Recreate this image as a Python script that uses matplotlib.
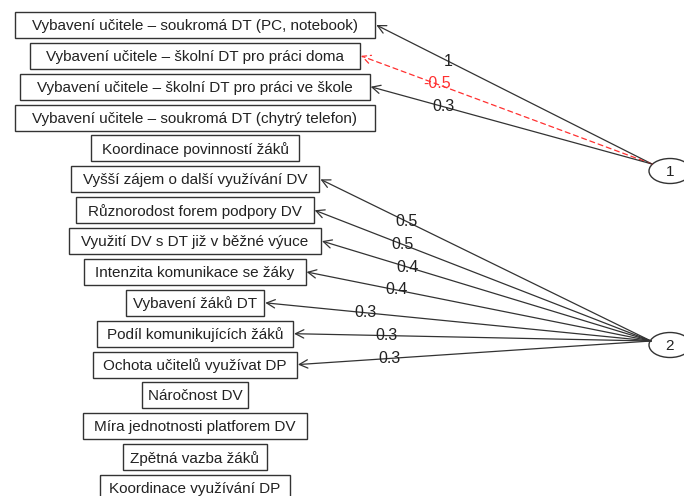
import matplotlib
matplotlib.use("Agg")
import matplotlib.pyplot as plt
from matplotlib.patches import Rectangle, Ellipse

items = [
    "Vybavení učitele – soukromá DT (PC, notebook)",
    "Vybavení učitele – školní DT pro práci doma",
    "Vybavení učitele – školní DT pro práci ve škole",
    "Vybavení učitele – soukromá DT (chytrý telefon)",
    "Koordinace povinností žáků",
    "Vyšší zájem o další využívání DV",
    "Různorodost forem podpory DV",
    "Využití DV s DT již v běžné výuce",
    "Intenzita komunikace se žáky",
    "Vybavení žáků DT",
    "Podíl komunikujících žáků",
    "Ochota učitelů využívat DP",
    "Náročnost DV",
    "Míra jednotnosti platforem DV",
    "Zpětná vazba žáků",
    "Koordinace využívání DP",
]
factors = ["1", "2"]
f1_items = [0, 1, 2]
f1_loadings = [1, -0.5, 0.3]
f2_items = [5, 6, 7, 8, 9, 10, 11]
f2_loadings = [0.5, 0.5, 0.4, 0.4, 0.3, 0.3, 0.3]

W, H = 684, 496
fig = plt.figure(figsize=(W / 100, H / 100), dpi=100)
ax = fig.add_axes([0, 0, 1, 1])
ax.set_xlim(0, W)
ax.set_ylim(H, 0)
ax.axis("off")

font = dict(family=["Liberation Sans", "DejaVu Sans"], fontsize=11, color="#222222")

y0, dy = 25, 30.87
xc = 195
texts = []
for i, name in enumerate(items):
    t = ax.text(xc, y0 + i * dy + 1, name, ha="center", va="center", **font)
    texts.append(t)

fig.canvas.draw()
r = fig.canvas.get_renderer()
inv = ax.transData.inverted()
right_edges = []
for i, t in enumerate(texts):
    bb = t.get_window_extent(r)
    (x0d, _), (x1d, _) = inv.transform([(bb.x0, bb.y0), (bb.x1, bb.y1)])
    tw = abs(x1d - x0d)
    bw = tw * 1.1 + 2
    xl, xr = xc - bw / 2, xc + bw / 2
    yc = y0 + i * dy
    ax.add_patch(Rectangle((xl, yc - 13), bw, 26, fill=False,
                           edgecolor="#333333", lw=1.0))
    right_edges.append(xr)

ell_x = 670
ell_y = [171, 345]
starts = [(652, 164), (651, 341)]
for fy, fname in zip(ell_y, factors):
    ax.add_patch(Ellipse((ell_x, fy), 42, 25, fill=False, edgecolor="#333333", lw=1.0))
    ax.text(ell_x, fy + 1, fname, ha="center", va="center", **font)

def draw_paths(start, idxs, loads):
    sx, sy = start
    for i, l in zip(idxs, loads):
        tx, ty = right_edges[i] + 1, y0 + i * dy
        neg = l < 0
        col = "#ff3030" if neg else "#333333"
        ls = (0, (4, 3)) if neg else "-"
        ax.annotate("", xy=(tx, ty), xytext=(sx, sy),
                    arrowprops=dict(arrowstyle="->,head_length=0.6,head_width=0.3",
                                    color=col, lw=0.9, linestyle=ls,
                                    shrinkA=0, shrinkB=0))
        f = 0.26
        lx = tx + f * (sx - tx)
        ly = ty + f * (sy - ty)
        lab = f"{l:g}"
        ax.text(lx, ly, lab, ha="center", va="center",
                family=["Liberation Sans", "DejaVu Sans"], fontsize=11.5,
                color="#ff3030" if neg else "#222222")

draw_paths(starts[0], f1_items, f1_loadings)
draw_paths(starts[1], f2_items, f2_loadings)

fig.savefig("out.png", dpi=100, facecolor="white")
